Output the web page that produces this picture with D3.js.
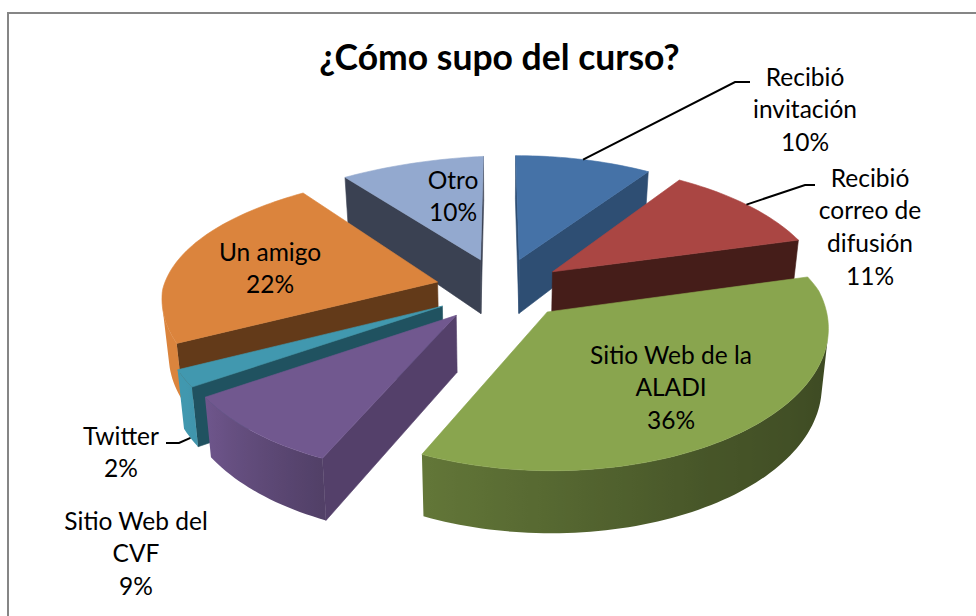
<!DOCTYPE html>
<html><head><meta charset="utf-8">
<script src="https://cdn.jsdelivr.net/npm/d3@7"></script>
<style>html,body{margin:0;padding:0;background:#fff;overflow:hidden}svg{display:block}
text{font-family:Lato,"Open Sans",sans-serif;fill:#000}</style></head>
<body><svg id="c" width="976" height="616"></svg>
<script>
const categories = ["Recibió invitación","Recibió correo de difusión","Sitio Web de la ALADI","Sitio Web del CVF","Twitter","Un amigo","Otro"];
const values = [10,11,36,9,2,22,10];
const labelLines = [["Recibió","invitación","10%"],["Recibió","correo de","difusión","11%"],["Sitio Web de la","ALADI","36%"],["Sitio Web del","CVF","9%"],["Twitter","2%"],["Un amigo","22%"],["Otro","10%"]];
const topColors = ["#4572a7","#aa4643","#89a54e","#71588f","#4198af","#db843d","#93a9cf"];
const wallColors = ["#2e4e73","#451d19","#5f7339","#54406a","#205260","#633a19","#3a4152"];
const explodeX = [65,65,73,65,65,65,65];
const explodeY = [65,65,55,65,65,65,65];
const labelX = [805,870,671,136,121,270,453];
const labelY = [77,178,355,521,436,252,180];
const title = "¿Cómo supo del curso?";

const cx=500, cy=290, R=275, H=56, K=0.51;
const svg=d3.select("#c");
const defs=svg.append("defs");
svg.append("path").attr("d","M8 616V13H976").attr("fill","none").attr("stroke","#868686").attr("stroke-width",2);

const scaleDepth=d3.scaleLinear().domain([-340,0,300]).range([0.78,1,1.11]);
const lightness=d3.scaleLinear().domain([75,150,205,240,360]).range([0.4,0.52,0.72,1,1]);
const project=(u,v,z)=>{
  const s=scaleDepth(v),f=z?0.98:1;
  const twist=Math.max(0,-u)*Math.max(0,-v);   // the far-left of the pie sags a little in the source
  return [cx+u*s*f-1.3e-4*twist, cy+K*v*s+z*s*H+1.1e-4*twist];
};

const rad=d=>d*Math.PI/180;
const pie=d3.pie().sort(null).startAngle(0).endAngle(2*Math.PI).value(d=>d);
const slices=pie(values).map((a,i)=>{
  const mid=(a.startAngle+a.endAngle)/2;
  return {i,a0:a.startAngle,a1:a.endAngle,ox:explodeX[i]*Math.sin(mid),oy:-explodeY[i]*Math.cos(mid)};
}).sort((p,q)=>p.oy-q.oy);
const rim=(s,a,z)=>project(s.ox+R*Math.sin(a),s.oy-R*Math.cos(a),z);
const line=d3.line();
const face=(pts,fill,g)=>{
  // only faces turned towards the viewer
  if(d3.polygonArea(pts)<=0) return;
  g.append("path").attr("d",line(pts)+"Z").attr("fill",fill).attr("stroke",fill).attr("stroke-width",0.6);
};
slices.forEach(s=>{
  const g=svg.append("g"), top=topColors[s.i], wall=wallColors[s.i];
  const aT=project(s.ox,s.oy,0), aB=project(s.ox,s.oy,1);
  face([aT,rim(s,s.a0,0),rim(s,s.a0,1),aB],wall,g);
  face([aT,aB,rim(s,s.a1,1),rim(s,s.a1,0)],wall,g);
  const step=rad(1.5), n=Math.ceil((s.a1-s.a0)/step);
  const angles=d3.range(n+1).map(k=>s.a0+(s.a1-s.a0)*k/n);
  // outer wall: one shape with a horizontal gradient over the part that faces the viewer
  const vis=d3.pairs(angles).filter(([b0,b1])=>d3.polygonArea([rim(s,b0,0),rim(s,b1,0),rim(s,b1,1),rim(s,b0,1)])>0);
  if(vis.length){
    const ang=[vis[0][0]].concat(vis.map(p=>p[1]));
    const xs=ang.map(a=>rim(s,a,0)[0]);
    const x0=d3.min(xs), x1=d3.max(xs), id="w"+s.i;
    const grad=defs.append("linearGradient").attr("id",id).attr("gradientUnits","userSpaceOnUse")
      .attr("x1",x0).attr("x2",x1).attr("y1",0).attr("y2",0);
    ang.map((a,k)=>({off:(xs[k]-x0)/(x1-x0),col:d3.interpolateRgb("#000",top)(lightness(a*180/Math.PI))}))
      .sort((p,q)=>p.off-q.off)
      .forEach(o=>grad.append("stop").attr("offset",o.off).attr("stop-color",o.col));
    const outline=ang.map(a=>rim(s,a,0)).concat(ang.slice().reverse().map(a=>rim(s,a,1)));
    g.append("path").attr("d",line(outline)+"Z").attr("fill",`url(#${id})`);
  }
  const pts=[aT].concat(angles.map(a=>rim(s,a,0)));
  g.append("path").attr("d",line(pts)+"Z").attr("fill",top).attr("stroke",top).attr("stroke-width",0.6);
});

// leader lines
const leaders=[{i:0,z:0,via:[[735,82],[750,82]]},{i:1,z:0,via:[[805,185],[815,185]]},{i:4,z:1,via:[[179,443],[166,443]]}];
const byIndex=new Map(slices.map(s=>[s.i,s]));
leaders.forEach(l=>{
  const s=byIndex.get(l.i), m=(s.a0+s.a1)/2;
  const p=rim(s,m,l.z);
  svg.append("path").attr("d",line([p].concat(l.via))).attr("fill","none").attr("stroke","#000").attr("stroke-width",2);
});

svg.append("text").attr("x",499.5).attr("y",70).attr("text-anchor","middle").attr("font-size",35.5).attr("font-weight",700).text(title);
labelLines.forEach((ls,i)=>{
  ls.forEach((t,j)=>{
    svg.append("text").attr("x",labelX[i]).attr("y",labelY[i]+j*32.7+8.5)
      .attr("text-anchor","middle").attr("font-size",24.5).text(t);
  });
});
</script></body></html>
